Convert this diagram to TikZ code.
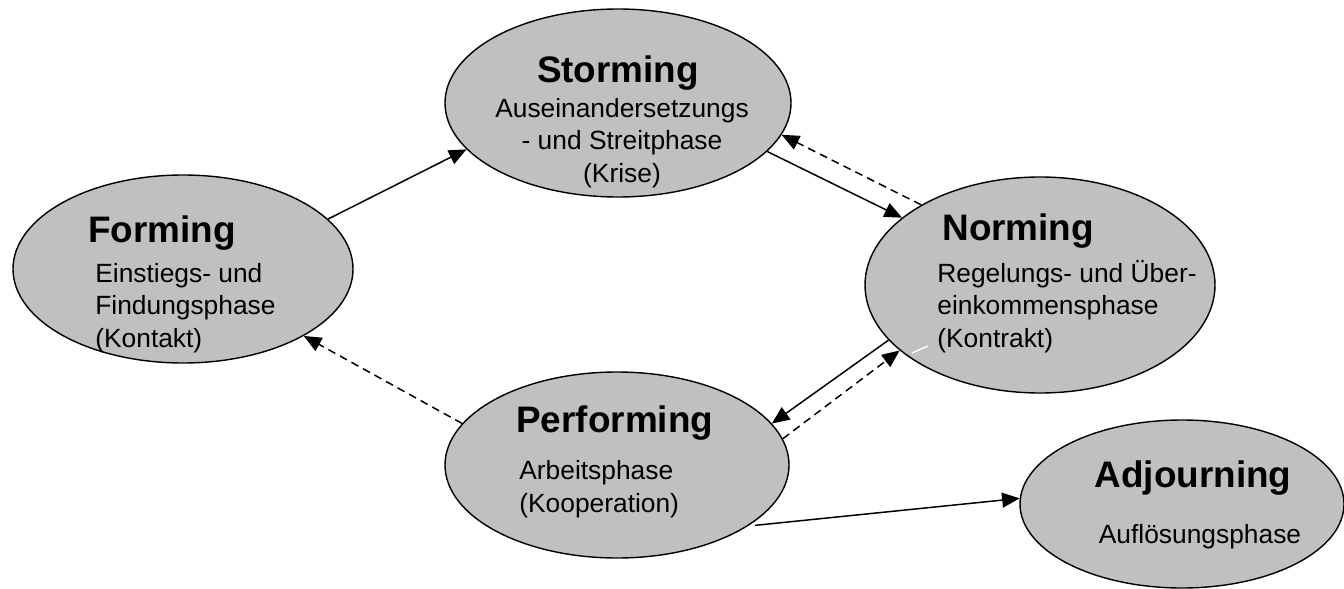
\documentclass[tikz,border=0pt]{standalone}
\usepackage{fontspec}
\setmainfont{Liberation Sans}
\usepackage{tikz}
\usepackage{xcolor}
\usetikzlibrary{shapes.geometric,arrows.meta}

\definecolor{stagegray}{RGB}{192,192,192}

\begin{document}
\begin{tikzpicture}[x=0.02cm,y=-0.02cm,
  stage/.style={ellipse,draw=black,line width=0.8pt,fill=stagegray,inner sep=0pt},
  title/.style={font=\fontsize{21}{25}\selectfont\bfseries,inner sep=0pt},
  phase/.style={font=\fontsize{15}{18.3}\selectfont,inner sep=0pt},
  flow/.style={line width=0.85pt,-{Triangle[length=10pt,width=8.5pt]}},
  back/.style={flow,dash pattern=on 4.5pt off 3pt}]

  \useasboundingbox (0,0) rectangle (1344,588);

  % ---------- the five stages ----------
  \node[stage,minimum width=340*0.02cm,minimum height=188*0.02cm] (form)  at (183,269) {};
  \node[stage,minimum width=346*0.02cm,minimum height=188*0.02cm] (storm) at (618,103) {};
  \node[stage,minimum width=350*0.02cm,minimum height=216*0.02cm] (norm)  at (1040,285) {};
  \node[stage,minimum width=344*0.02cm,minimum height=186*0.02cm] (perf)  at (617,465) {};
  \node[stage,minimum width=324*0.02cm,minimum height=168*0.02cm] (adj)   at (1182,504) {};

  % ---------- labels (multi-line: base = last line) ----------
  \node[title,anchor=base west] (formT) at (88,242) {Forming};
  \node[phase,anchor=base west,align=left] (formP) at (95,347)
    {Einstiegs- und\\Findungsphase\\(Kontakt)};

  \node[title,anchor=base] (stormT) at (618,83) {Storming};
  \node[phase,anchor=base,align=center] (stormP) at (622,182)
    {Auseinandersetzungs\\- und Streitphase\\(Krise)};

  \node[title,anchor=base west] (normT) at (942,240) {Norming};
  \node[phase,anchor=base west,align=left] (normP) at (937,347)
    {Regelungs- und Über-\\einkommensphase\\(Kontrakt)};

  \node[title,anchor=base west] (perfT) at (516,432) {Performing};
  \node[phase,anchor=base west,align=left] (perfP) at (519,512)
    {Arbeitsphase\\(Kooperation)};

  \node[title,anchor=base] (adjT) at (1193,487) {Adjourning};
  \node[phase,anchor=base] (adjP) at (1200,543) {Auflösungsphase};

  % ---------- transitions ----------
  \draw[flow] (form.19) -- (storm.197);
  \draw[flow] (storm.-18.5) -- (norm.154);
  \draw[back] (norm.146.7) -- (storm.-11);
  \draw[flow] (norm.200.8) -- (perf.15.6);
  \draw[back] (perf.9.6) -- (norm.205.4);
  \draw[back] (perf.165) -- (form.-29.6);
  \draw[flow,shorten <=4pt] (perf.-25.9) -- (adj.178.6);

  % white stroke over the norming border
  \draw[white,line width=0.8pt] (norm) ++(-128,68) -- ++(16,-7);

\end{tikzpicture}
\end{document}
